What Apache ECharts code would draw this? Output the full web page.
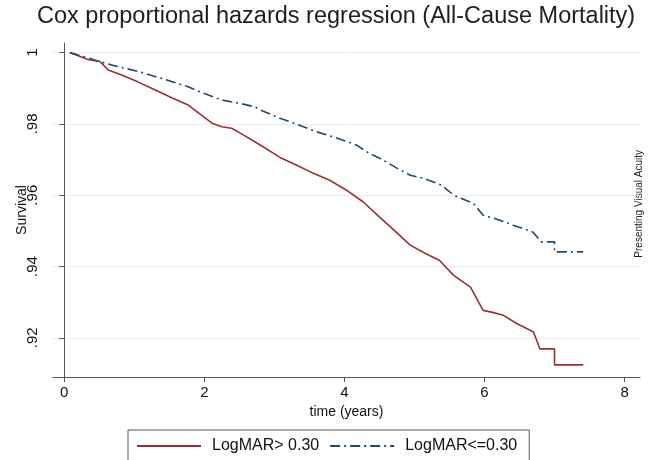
<!DOCTYPE html>
<html><head><meta charset="utf-8">
<script src="https://cdn.jsdelivr.net/npm/echarts@6/dist/echarts.min.js"></script>
<style>html,body{margin:0;padding:0;background:#fff}#c{width:648px;height:460px}</style>
</head><body><div id="c"></div>
<script>
const xTicks = [0, 2, 4, 6, 8];
const yTicks = [0.92, 0.94, 0.96, 0.98, 1];
const seriesNames = ['LogMAR> 0.30', 'LogMAR<=0.30'];
const redData = [[0.08,1.0],[0.2,0.9991],[0.35,0.998],[0.51,0.9975],[0.63,0.9951],[0.82,0.9937],[1.05,0.9918],[1.3,0.9895],[1.55,0.9872],[1.77,0.9853],[1.95,0.9826],[2.11,0.9802],[2.25,0.9792],[2.39,0.9788],[2.55,0.977],[2.72,0.975],[2.84,0.9736],[3.08,0.9706],[3.32,0.9684],[3.55,0.9662],[3.79,0.9642],[4.03,0.9614],[4.27,0.9581],[4.51,0.9537],[4.72,0.95],[4.94,0.946],[5.15,0.9437],[5.36,0.9417],[5.56,0.9375],[5.8,0.9342],[5.98,0.9277],[6.1,0.9272],[6.27,0.9263],[6.46,0.924],[6.7,0.9216],[6.79,0.9169],[7.0,0.9169],[7.0,0.9124],[7.41,0.9124]];
const blueData = [[0.08,1.0],[0.2,0.9993],[0.39,0.9982],[0.68,0.9965],[1.06,0.9947],[1.4,0.9927],[1.77,0.9904],[2.0,0.9885],[2.25,0.9867],[2.5,0.9858],[2.72,0.9848],[2.8,0.9839],[3.08,0.9816],[3.35,0.9797],[3.6,0.9778],[3.9,0.976],[4.17,0.9741],[4.35,0.9718],[4.51,0.9703],[4.75,0.9676],[4.94,0.9656],[5.12,0.9648],[5.39,0.9628],[5.56,0.96],[5.84,0.9577],[5.98,0.9544],[6.22,0.953],[6.41,0.9516],[6.69,0.9497],[6.81,0.9469],[7.0,0.9469],[7.0,0.9441],[7.41,0.9441]];

const chart = echarts.init(document.getElementById('c'));
const font = 'Liberation Sans, Arial, sans-serif';
chart.setOption({
  animation: false,
  backgroundColor: '#fff',
  textStyle: {fontFamily: font},
  title: {
    text: 'Cox proportional hazards regression (All-Cause Mortality)',
    left: 37, top: 5, padding: 0,
    textStyle: {fontSize: 23.5, fontWeight: 'normal', color: '#1e1e1e', fontFamily: font}
  },
  graphic: [{
    type: 'text', left: 634, top: 150, rotation: Math.PI / 2,
    style: {text: 'Presenting Visual Acuity', fontSize: 10, fill: '#222', fontFamily: font}
  }],
  legend: {
    bottom: -10, left: 128,
    data: seriesNames,
    itemWidth: 64, itemHeight: 14, itemGap: 10,
    itemStyle: {opacity: 0},
    borderColor: '#555', borderWidth: 1, borderRadius: 0,
    padding: [8, 12, 16, 8],
    textStyle: {fontSize: 16, color: '#111', fontFamily: font, padding: [0, 0, 0, 6]}
  },
  grid: {left: 53, right: 8, top: 43, bottom: 83, outerBoundsMode: 'none', containLabel: false},
  xAxis: {
    type: 'value', min: -0.16, max: 8.22,
    name: 'time (years)', nameLocation: 'middle', nameGap: 28, nameMoveOverlap: false,
    nameTextStyle: {fontSize: 14, color: '#111', fontFamily: font},
    axisLine: {show: true, onZero: false, lineStyle: {color: '#555', width: 1}},
    axisTick: {show: true, length: 5, customValues: xTicks, lineStyle: {color: '#555'}},
    axisLabel: {customValues: xTicks, fontSize: 15, color: '#111', margin: 8, formatter: v => String(v)},
    splitLine: {show: false}
  },
  yAxis: {
    type: 'value', min: 0.909, max: 1.0027,
    name: 'Survival', nameLocation: 'middle', nameGap: 24, nameRotate: 90, nameMoveOverlap: false,
    nameTextStyle: {fontSize: 14, color: '#111', fontFamily: font},
    axisLine: {show: true, lineStyle: {color: '#555', width: 1}},
    axisTick: {show: true, length: 5, customValues: yTicks, lineStyle: {color: '#555'}},
    axisLabel: {customValues: yTicks, rotate: 90, fontSize: 15, color: '#111', margin: 13,
      formatter: v => v === 1 ? '1' : String(+v.toFixed(2)).replace(/^0/, '')},
    splitLine: {show: true, lineStyle: {color: '#ebebeb', width: 1}}
  },
  series: [
    {name: seriesNames[0], type: 'line', data: redData, showSymbol: false, symbol: 'none',
      lineStyle: {color: '#9a3036', width: 1.6}, itemStyle: {color: '#9a3036'}},
    {name: seriesNames[1], type: 'line', data: blueData, showSymbol: false, symbol: 'none',
      lineStyle: {color: '#1f4a70', width: 1.6, type: [10, 4, 2, 4]}, itemStyle: {color: '#1f4a70'}}
  ]
});
</script></body></html>
